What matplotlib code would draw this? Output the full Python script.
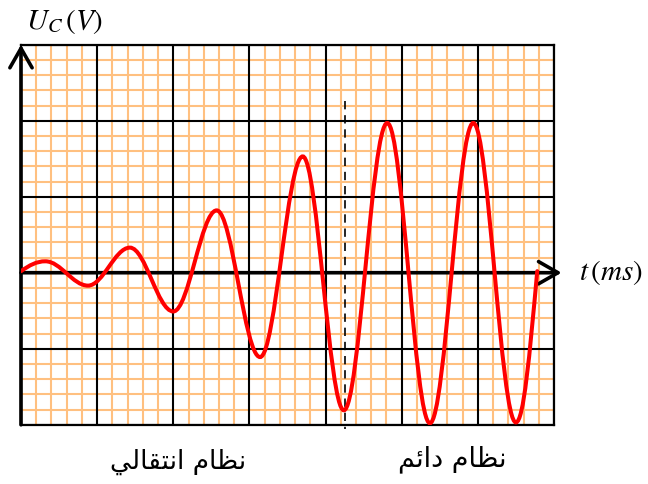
import matplotlib.pyplot as plt
from matplotlib.path import Path
from matplotlib.patches import PathPatch
from matplotlib.ticker import MultipleLocator

plt.rcParams['mathtext.fontset'] = 'stix'

# curve (grid units: 1 = one small square)
# extrema of the oscillation, plus start and end point
t_pts = [0.0, 1.6, 4.4, 7.15, 10.0, 12.85, 15.7, 18.5, 21.2, 24.05, 26.85, 29.7, 32.5, 33.9]
u_pts = [0.1, 0.75, -0.85, 1.65, -2.55, 4.1, -5.55, 7.65, -9.05, 9.85, -9.9, 9.85, -9.85, 0.1]
# slope of the curve at each of those points (0 at the extrema)
slopes = [0.7, 0, 0, 0, 0, 0, 0, 0, 0, 0, 0, 0, 0, 11.0]

t_regime = 21.3  # dashed line: transient / steady state
label_transient = '\ufef2\ufedf\ufe8e\ufed8\ufe98\ufee7\ufe8d \ufee1\ufe8e\ufec8\ufee7'  # نظام انتقالي
label_steady = '\ufee2\ufe8b\ufe8d\ufea9 \ufee1\ufe8e\ufec8\ufee7'  # نظام دائم

fig = plt.figure(figsize=(6.48, 4.85), dpi=100)
ax = fig.add_axes([21 / 648, 1 - 425.7 / 485, 533 / 648, 380 / 485])
ax.set_xlim(0, 35)
ax.set_ylim(-10, 15)

# graph paper: orange small squares, black big squares on top
for axis in (ax.xaxis, ax.yaxis):
    axis.set_major_locator(MultipleLocator(5))
    axis.set_minor_locator(MultipleLocator(1))
ax.set_axisbelow(True)
ax.grid(which='minor', color='#ffc080', lw=1.5)
for x in ax.get_xticks():
    ax.axvline(x, color='black', lw=1.5, zorder=1)
for y in ax.get_yticks():
    ax.axhline(y, color='black', lw=1.5, zorder=1)
ax.tick_params(which='both', length=0, labelbottom=False, labelleft=False)
for s in ax.spines.values():
    s.set_linewidth(1.6)

# smooth curve through the read points (cubic bezier pieces)
k = 0.36
verts = [(t_pts[0], u_pts[0])]
codes = [Path.MOVETO]
for i in range(len(t_pts) - 1):
    dx = t_pts[i + 1] - t_pts[i]
    verts.append((t_pts[i] + k * dx, u_pts[i] + k * dx * slopes[i]))
    verts.append((t_pts[i + 1] - k * dx, u_pts[i + 1] - k * dx * slopes[i + 1]))
    verts.append((t_pts[i + 1], u_pts[i + 1]))
    codes += [Path.CURVE4] * 3
ax.add_patch(PathPatch(Path(verts, codes), fill=False, ec='red', lw=2.9,
                       zorder=6, capstyle='round'))

# axes with arrows
arrow = dict(arrowstyle='->,head_length=1.4,head_width=0.8', lw=2.6,
             color='black', shrinkA=0, shrinkB=0)
ax.annotate('', xy=(0, 15), xytext=(0, -10), arrowprops=arrow,
            annotation_clip=False, zorder=5)
ax.annotate('', xy=(35.5, 0), xytext=(0, 0), arrowprops=arrow,
            annotation_clip=False, zorder=5)

ax.plot([t_regime, t_regime], [11.3, -10.3], color='black', lw=1.2,
        ls=(0, (5, 3.5)), clip_on=False, zorder=4)

fig.text(0.040, 0.955, r'$U_C\,(V)$', fontsize=21, va='center', ha='left')
fig.text(0.893, 0.438, r'$t\,(ms)$', fontsize=21, va='center', ha='left')
fig.text(0.2747, 0.048, label_transient, fontsize=19, ha='center', va='center',
         family='DejaVu Sans')
fig.text(0.698, 0.054, label_steady, fontsize=19.5, ha='center', va='center',
         family='DejaVu Sans')

fig.savefig('out.png', dpi=100)
